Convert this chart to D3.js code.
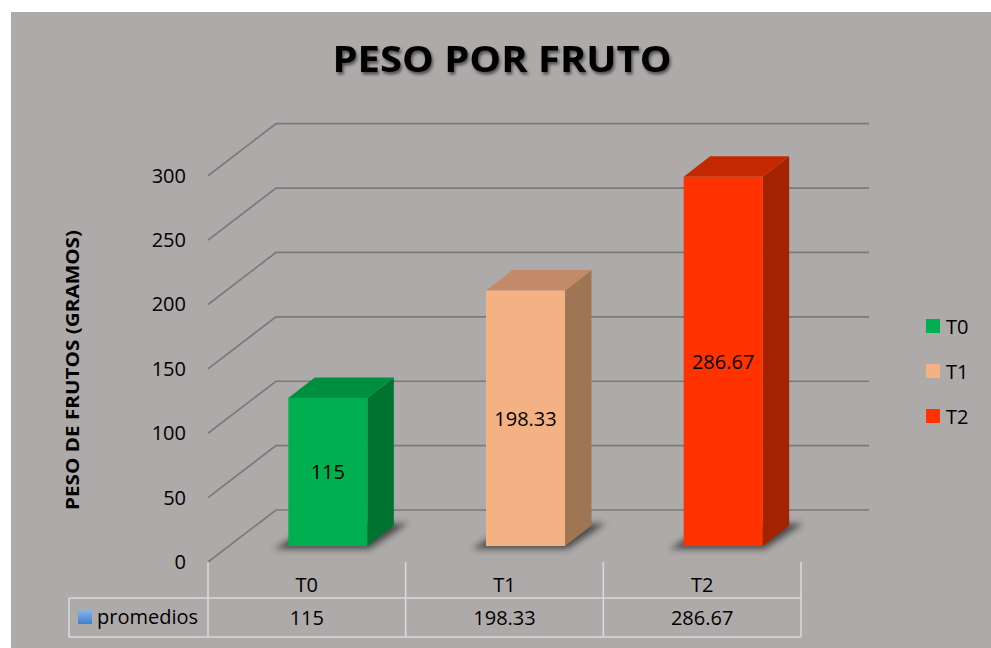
<!DOCTYPE html>
<html><head><meta charset="utf-8">
<script src="https://cdn.jsdelivr.net/npm/d3@7"></script>
<style>html,body{margin:0;padding:0;background:#fff;}svg{display:block;}</style>
</head><body>
<script>
const categories = ["T0", "T1", "T2"];
const values = [115, 198.33, 286.67];
const valueLabels = ["115", "198.33", "286.67"];
const tickValues = [0, 50, 100, 150, 200, 250, 300];
const seriesName = "promedios";
const title = "PESO POR FRUTO";
const yTitle = "PESO DE FRUTOS (GRAMOS)";
const frontColors = ["#00b050", "#f4b183", "#ff3300"];
const topColors = ["#008f3f", "#c38a67", "#c32800"];
const sideColors = ["#007330", "#9f7554", "#a32200"];

const W = 991, H = 648;
const svg = d3.select("body").append("svg").attr("width", W).attr("height", H)
  .style("font-family", "'Open Sans', sans-serif");

const defs = svg.append("defs");
const sh = defs.append("filter").attr("id", "tshadow").attr("x", "-10%").attr("y", "-30%").attr("width", "120%").attr("height", "170%");
sh.append("feDropShadow").attr("dx", 1.5).attr("dy", 2.5).attr("stdDeviation", 1.5).attr("flood-color", "#000").attr("flood-opacity", 0.55);
const blur = defs.append("filter").attr("id", "bshadow").attr("x", "-50%").attr("y", "-50%").attr("width", "200%").attr("height", "200%");
blur.append("feGaussianBlur").attr("stdDeviation", 3);
const lg = defs.append("linearGradient").attr("id", "keyg").attr("x1", 0).attr("y1", 0).attr("x2", 0).attr("y2", 1);
lg.append("stop").attr("offset", 0).attr("stop-color", "#8ab6e6");
lg.append("stop").attr("offset", 1).attr("stop-color", "#3f7fcf");

// background
svg.append("rect").attr("x", 11).attr("y", 12).attr("width", W - 11).attr("height", H - 12).attr("fill", "#aeaaaa");

// scales
const y = d3.scaleLinear().domain([0, 300]).range([562, 175.7]);
const x = d3.scaleBand().domain(categories).range([208, 801]).paddingInner(0).paddingOuter(0);
const DX = 68, DY = -52;            // floor depth
const fDX = 21, fDY = -16;          // bar front offset
const bDX = 26.5, bDY = -20.5;      // bar depth
const barW = 79;

// gridlines (back wall + side wall)
const grid = svg.append("g").attr("stroke", "#7a7a7a").attr("stroke-width", 1.7).attr("fill", "none");
tickValues.forEach(v => {
  grid.append("path").attr("d", `M${x.range()[0]},${y(v)} L${x.range()[0] + DX},${y(v) + DY} L${x.range()[1] + DX},${y(v) + DY}`);
});

// y axis labels
const axis = d3.axisLeft(y).tickValues(tickValues).tickSize(0).tickPadding(22).tickFormat(d3.format("d"));
const ag = svg.append("g").attr("transform", `translate(${x.range()[0]},0)`).call(axis);
ag.select(".domain").remove();
ag.selectAll("text").attr("font-size", 20).attr("fill", "#000").style("font-family", "'Open Sans', sans-serif");

// bars
const bars = svg.append("g");
categories.forEach((c, i) => {
  const x0 = x(c) + (x.bandwidth() - barW) / 2 + fDX;
  const x1 = x0 + barW;
  const yb = y(0) + fDY;
  const yt = y(values[i]) + fDY;
  // shadow
  bars.append("path")
    .attr("d", `M${x0 - 14},${yb + 3} L${x1 + 2},${yb + 3} L${x1 + bDX + 14},${yb + bDY - 2} L${x0 + bDX},${yb + bDY - 2} Z`)
    .attr("fill", "#2a2a2a").attr("opacity", 0.75).attr("filter", "url(#bshadow)");
  // side
  bars.append("path")
    .attr("d", `M${x1},${yt} L${x1 + bDX},${yt + bDY} L${x1 + bDX},${yb + bDY} L${x1},${yb} Z`)
    .attr("fill", sideColors[i]);
  // top
  bars.append("path")
    .attr("d", `M${x0},${yt} L${x0 + bDX},${yt + bDY} L${x1 + bDX},${yt + bDY} L${x1},${yt} Z`)
    .attr("fill", topColors[i]);
  // front
  bars.append("rect").attr("x", x0).attr("y", yt).attr("width", barW).attr("height", yb - yt)
    .attr("fill", frontColors[i]);
  // label
  bars.append("text").attr("x", x0 + barW / 2).attr("y", (yt + yb) / 2)
    .attr("text-anchor", "middle").attr("dominant-baseline", "central")
    .attr("font-size", 20).attr("fill", "#000").text(valueLabels[i]);
});

// data table
const tl = svg.append("g").attr("stroke", "#d9d9d9").attr("stroke-width", 1.6).attr("fill", "none");
const edges = categories.map(c => x(c)).concat([x.range()[1]]);
edges.forEach(e => tl.append("line").attr("x1", e).attr("x2", e).attr("y1", 562).attr("y2", 637));
tl.append("line").attr("x1", 69).attr("x2", x.range()[1]).attr("y1", 598).attr("y2", 598);
tl.append("line").attr("x1", 69).attr("x2", x.range()[1]).attr("y1", 637).attr("y2", 637);
tl.append("line").attr("x1", 69).attr("x2", 69).attr("y1", 598).attr("y2", 637);

categories.forEach((c, i) => {
  svg.append("text").attr("x", x(c) + x.bandwidth() / 2).attr("y", 584).attr("text-anchor", "middle")
    .attr("dominant-baseline", "central").attr("font-size", 20).text(c);
  svg.append("text").attr("x", x(c) + x.bandwidth() / 2).attr("y", 617).attr("text-anchor", "middle")
    .attr("dominant-baseline", "central").attr("font-size", 20).text(valueLabels[i]);
});
svg.append("rect").attr("x", 78).attr("y", 610).attr("width", 14).attr("height", 14).attr("fill", "url(#keyg)");
svg.append("text").attr("x", 97).attr("y", 616).attr("dominant-baseline", "central").attr("font-size", 20).text(seriesName);

// legend
categories.forEach((c, i) => {
  const cy = 326 + i * 45;
  svg.append("rect").attr("x", 926).attr("y", cy - 7).attr("width", 14).attr("height", 14).attr("fill", frontColors[i]);
  svg.append("text").attr("x", 946).attr("y", cy).attr("dominant-baseline", "central").attr("font-size", 20).text(c);
});

// titles
svg.append("text").attr("x", 502).attr("y", 72).attr("text-anchor", "middle")
  .attr("font-size", 36).attr("font-weight", "bold").attr("textLength", 339).attr("lengthAdjust", "spacingAndGlyphs")
  .attr("filter", "url(#tshadow)").text(title);
svg.append("text").attr("transform", "translate(79,370) rotate(-90)").attr("text-anchor", "middle")
  .attr("font-size", 17).attr("font-weight", "bold").attr("textLength", 280).attr("lengthAdjust", "spacingAndGlyphs")
  .text(yTitle);
</script>
</body></html>
